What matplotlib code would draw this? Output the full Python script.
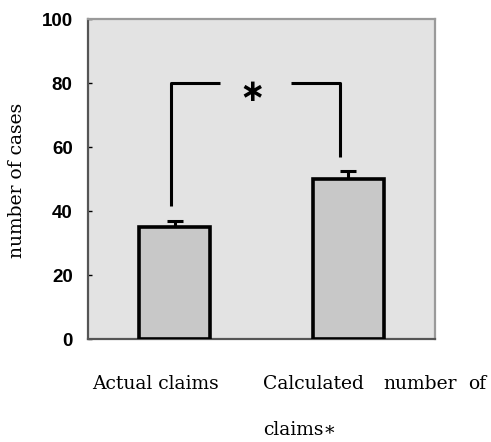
import matplotlib.pyplot as plt

categories = ["Actual claims", "Calculated number of\nclaims\u2217"]
values = [35, 50]
errors = [1.9, 2.5]
yticks = [0, 20, 40, 60, 80, 100]


def plot_claims():
    fig = plt.figure(figsize=(4.91, 4.42), dpi=100)
    ax = fig.add_axes([88 / 491, 103 / 442, 347 / 491, 320 / 442])
    ax.set_facecolor("#e3e3e3")

    x = list(range(len(values)))
    ax.bar(x, values, width=0.41, color="#c8c8c8", edgecolor="black",
           linewidth=2.6, zorder=3)
    ax.errorbar(x, values, yerr=[[0] * len(errors), errors], fmt="none",
                ecolor="black", elinewidth=2.2, capsize=5.5, capthick=2.2, zorder=2)

    # significance bracket
    ax.plot([-0.02, -0.02, 0.26], [41.5, 80, 80], color="black", lw=2.2,
            solid_capstyle="butt", zorder=4)
    ax.plot([0.67, 0.955, 0.955], [80, 80, 57], color="black", lw=2.2,
            solid_capstyle="butt", zorder=4)
    ax.text(0.445, 77, "\u2217", ha="center", va="center", fontsize=22,
            fontweight="bold", family="DejaVu Sans", zorder=4)

    ax.set_xlim(-0.5, 1.5)
    ax.set_ylim(0, 100)
    ax.set_xticks([])
    ax.set_yticks(yticks)
    ax.set_yticklabels([str(t) for t in yticks], fontsize=13.5,
                       fontweight="bold", family="Liberation Sans")
    ax.tick_params(axis="y", direction="in", length=3, width=1, pad=11)

    for side in ["left", "bottom"]:
        ax.spines[side].set_color("#555555")
        ax.spines[side].set_linewidth(1.6)
    for side in ["right", "top"]:
        ax.spines[side].set_color("#9a9a9a")
        ax.spines[side].set_linewidth(1.6)

    serif = "DejaVu Serif"
    fig.text(17 / 491, 1 - 180 / 442, "number of cases", rotation=90,
             ha="center", va="center", fontsize=13.5, family=serif)

    fig.text(92 / 491, 1 - 384 / 442, categories[0], ha="left", va="center",
             fontsize=13.5, family=serif)
    # second label is justified in the source, so place its words apart
    first, second = categories[1].split("\n")
    for word, px in zip(first.split(" "), [263, 383, 468]):
        fig.text(px / 491, 1 - 384 / 442, word, ha="left", va="center",
                 fontsize=13.5, family=serif)
    fig.text(263 / 491, 1 - 430 / 442, second, ha="left", va="center",
             fontsize=13.5, family=[serif, "DejaVu Sans"])

    fig.savefig("out.png", dpi=100)


if __name__ == "__main__":
    plot_claims()
